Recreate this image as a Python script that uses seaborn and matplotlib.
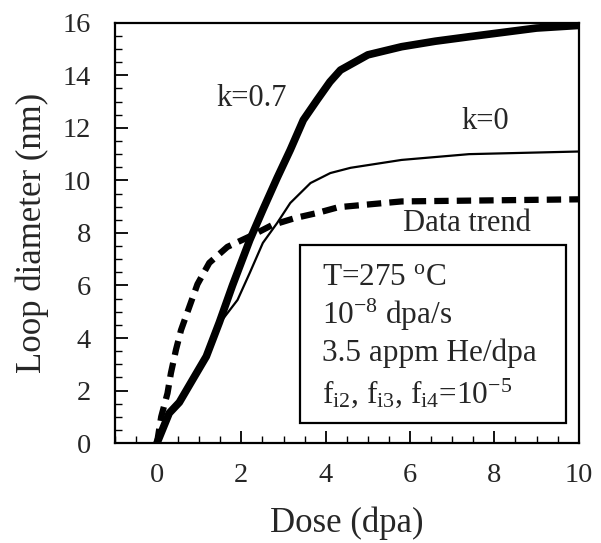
from __future__ import annotations

import matplotlib

matplotlib.use("Agg")

import matplotlib.pyplot as plt
import pandas as pd
import seaborn as sns
from matplotlib.patches import Rectangle
from matplotlib.ticker import MultipleLocator


# curves
DOSE_K07 = [0.0, 0.29, 0.53, 0.84, 1.17, 1.48, 1.79, 2.2, 2.51, 2.85, 3.16, 3.47, 3.8, 4.1,
            4.35, 5.0, 5.8, 6.6, 7.4, 9.0, 10.0]
DIAM_K07 = [0.0, 1.14, 1.55, 2.4, 3.3, 4.6, 6.0, 7.73, 8.88, 10.1, 11.16, 12.3, 13.07, 13.75,
            14.2, 14.78, 15.09, 15.3, 15.47, 15.8, 15.9]

DOSE_K0 = [0.0, 0.29, 0.53, 0.84, 1.17, 1.41, 1.91, 2.2, 2.51, 2.85, 3.16, 3.64, 4.11, 4.59,
           5.8, 7.4, 10.0]
DIAM_K0 = [0.0, 1.1, 1.5, 2.35, 3.25, 4.4, 5.45, 6.48, 7.62, 8.38, 9.14, 9.9, 10.28, 10.48,
           10.78, 11.0, 11.1]

DOSE_TREND = [0.0, 0.1, 0.25, 0.33, 0.45, 0.57, 0.77, 0.96, 1.24, 1.67, 2.27, 2.73, 3.28, 3.8,
              4.3, 5.8, 10.0]
DIAM_TREND = [0.0, 1.0, 1.9, 2.66, 3.55, 4.3, 5.2, 6.05, 6.86, 7.47, 7.92, 8.3, 8.57, 8.76,
              8.98, 9.2, 9.28]

BOX_LINES = [
    r"T=275 $^{\mathrm{o}}$C",
    r"10$^{\mathrm{-8}}$ dpa/s",
    "3.5 appm He/dpa",
    r"f$_{\mathrm{i2}}$, f$_{\mathrm{i3}}$, f$_{\mathrm{i4}}$=10$^{\mathrm{-5}}$",
]


def setup_theme() -> None:
    sns.set_theme(style="ticks")
    plt.rcParams["font.family"] = ["Liberation Serif", "DejaVu Serif"]
    plt.rcParams["mathtext.fontset"] = "custom"
    plt.rcParams["mathtext.rm"] = "Liberation Serif"
    plt.rcParams["mathtext.it"] = "Liberation Serif:italic"
    plt.rcParams["figure.facecolor"] = "white"
    plt.rcParams["axes.facecolor"] = "white"


def main() -> None:
    setup_theme()
    fig = plt.figure(figsize=(6.01, 5.43), dpi=100)
    ax = fig.add_axes([0.191, 0.184, 0.772, 0.774])

    k07 = pd.DataFrame({"dose": DOSE_K07, "diam": DIAM_K07})
    k0 = pd.DataFrame({"dose": DOSE_K0, "diam": DIAM_K0})
    trend = pd.DataFrame({"dose": DOSE_TREND, "diam": DIAM_TREND})

    sns.lineplot(data=k0, x="dose", y="diam", ax=ax, color="black", linewidth=1.6, sort=False)
    sns.lineplot(data=k07, x="dose", y="diam", ax=ax, color="black", linewidth=5.5, sort=False)
    line = sns.lineplot(data=trend, x="dose", y="diam", ax=ax, color="black", linewidth=4.5, sort=False)
    for ln in line.lines:
        ln.set_solid_joinstyle("round")
    line.lines[-1].set_dashes((2.3, 1.3))
    line.lines[-1].set_dash_capstyle("butt")

    ax.set_xlim(-1, 10)
    ax.set_ylim(0, 16)
    ax.xaxis.set_minor_locator(MultipleLocator(0.5))
    ax.yaxis.set_major_locator(MultipleLocator(2))
    ax.yaxis.set_minor_locator(MultipleLocator(0.5))
    ax.set_xticks([0, 2, 4, 6, 8, 10])
    ax.tick_params(which="major", direction="in", length=9, width=1.3, labelsize=20.5, pad=14, color="black")
    ax.tick_params(axis="y", which="major", pad=17)
    ax.tick_params(which="minor", direction="in", length=5, width=1.0, color="black")
    for spine in ax.spines.values():
        spine.set_visible(True)
        spine.set_linewidth(1.6)
        spine.set_color("black")

    ax.set_xlabel("Dose (dpa)", fontsize=25, labelpad=14)
    ax.set_ylabel("Loop diameter (nm)", fontsize=25, labelpad=10)

    ax.text(2.25, 13.1, "k=0.7", fontsize=22, ha="center", va="center")
    ax.text(7.78, 12.25, "k=0", fontsize=22, ha="center", va="center")
    ax.text(7.34, 8.35, "Data trend", fontsize=22, ha="center", va="center")

    ax.add_patch(Rectangle((3.4, 0.76), 6.29, 6.78, fill=False, edgecolor="black", linewidth=1.6))
    for y, txt in zip([6.32, 4.88, 3.43, 1.9], BOX_LINES):
        ax.text(3.92, y, txt, fontsize=22.5, ha="left", va="center")

    fig.savefig("out.png", dpi=100)
    plt.close(fig)


if __name__ == "__main__":
    main()
